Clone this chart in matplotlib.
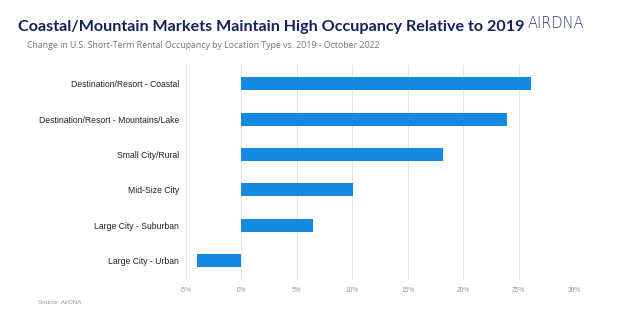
import matplotlib.pyplot as plt
import matplotlib.ticker as mtick

categories = ['Destination/Resort - Coastal', 'Destination/Resort - Mountains/Lake',
              'Small City/Rural', 'Mid-Size City', 'Large City - Suburban', 'Large City - Urban']
values = [26.1, 24.0, 18.2, 10.1, 6.5, -4.0]
ticks = [-5, 0, 5, 10, 15, 20, 25, 30]

plt.rcParams['font.family'] = ['Liberation Sans', 'DejaVu Sans']

fig = plt.figure(figsize=(6.24, 3.25), dpi=100)
ax = fig.add_axes([186/624, 1-280/325, (574-186)/624, (280-65)/325])

pos = list(range(len(categories)))
ax.barh(pos, values, height=0.37, color='#1589E0', zorder=3)
ax.set_yticks(pos)
ax.set_yticklabels(categories, fontsize=6.2, color='#222222')
ax.set_ylim(len(categories) - 0.45, -0.53)
ax.set_xlim(-5, 30)
ax.set_xticks(ticks)
ax.xaxis.set_major_formatter(mtick.FuncFormatter(lambda v, p: f'{v:.0f}%'))
ax.tick_params(axis='x', labelsize=4.8, labelcolor='#999999', length=0, pad=5)
ax.tick_params(axis='y', length=0, pad=5)
ax.grid(axis='x', color='#e6e6e6', linewidth=0.7, zorder=0)
for s in ax.spines.values():
    s.set_visible(False)

fig.text(18/624, 1-27/325, 'Coastal/Mountain Markets Maintain High Occupancy Relative to 2019',
         fontsize=11.6, fontweight='bold', color='#14215a', va='center', family='Lato')
fig.text(528/624, 1-24/325, 'AIRDNA', fontsize=10.5, color='#2a3b7a', va='center',
         family='DejaVu Sans', fontweight='light')
fig.text(27/624, 1-45/325, 'Change in U.S. Short-Term Rental Occupancy by Location Type vs. 2019 - October 2022',
         fontsize=6.3, color='#777777', va='center', family='Open Sans')
fig.text(38/624, 1-302/325, 'Source: AirDNA', fontsize=4.5, color='#999999', va='center')

fig.savefig('out.png', dpi=100)
